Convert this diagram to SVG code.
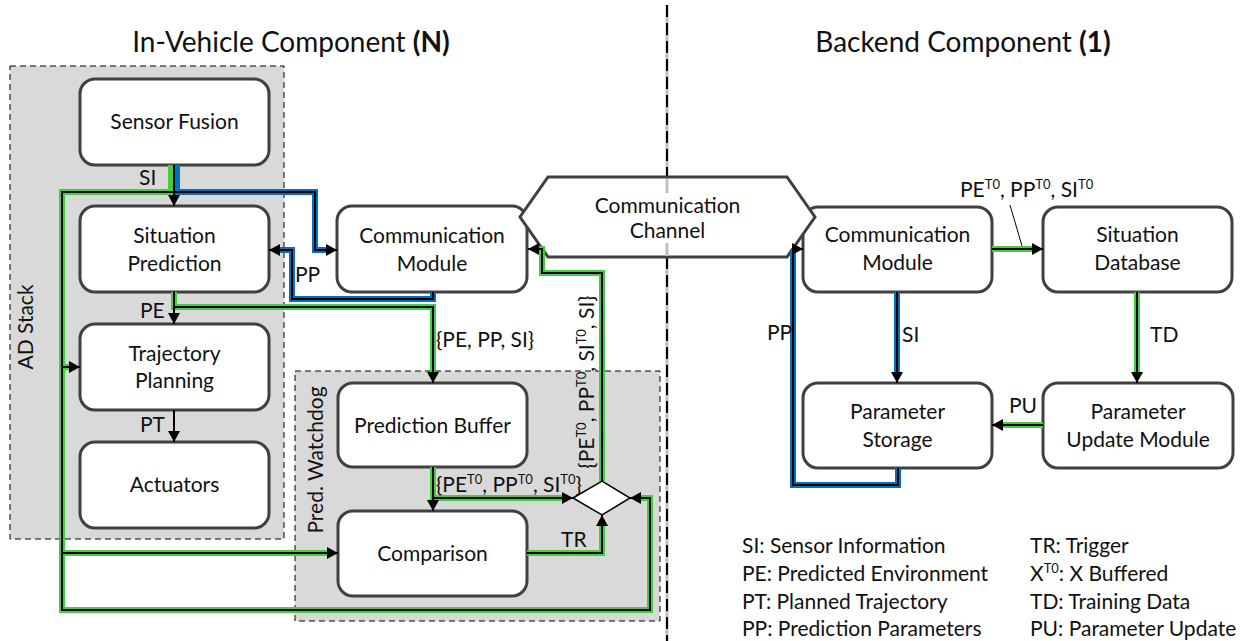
<svg xmlns="http://www.w3.org/2000/svg" width="1258" height="641" viewBox="0 0 1258 641">
<style>
text{font-family:Lato,"Liberation Sans",sans-serif;font-size:21px;fill:#111}
.box{fill:#fff;stroke:#404040;stroke-width:3}
.region{fill:#d9d9d9;stroke:#000;stroke-width:1;stroke-dasharray:6 4}
.g{fill:none;stroke:#3fcf3f;stroke-width:6}
.b{fill:none;stroke:#0070c0;stroke-width:6}
.k{fill:none;stroke:#000;stroke-width:2}
.a{marker-end:url(#arr)}
.c{text-anchor:middle}
.sup{font-size:13px}
.title{font-size:28px}
</style>
<defs>
<marker id="arr" markerUnits="userSpaceOnUse" markerWidth="11" markerHeight="12" refX="11" refY="6" orient="auto">
<path d="M0,0 L11,6 L0,12 z" fill="#000"/>
</marker>
</defs>

<g id="regions">
<rect class="region" x="10" y="66" width="274" height="473"/>
<rect class="region" x="295" y="371" width="365" height="250"/>
<text transform="translate(33,327) rotate(-90)" class="c">AD Stack</text>
<text transform="translate(323,460) rotate(-90)" class="c">Pred. Watchdog</text>
</g>

<g id="divider">
<line x1="667" y1="5" x2="667" y2="641" stroke="#bfbfbf" stroke-width="3"/>
<line x1="667" y1="5" x2="667" y2="641" stroke="#000" stroke-width="2" stroke-dasharray="12 6"/>
</g>

<text class="c title" x="291" y="52">In-Vehicle Component <tspan font-weight="bold">(N)</tspan></text>
<text class="c title" x="963" y="52">Backend Component <tspan font-weight="bold">(1)</tspan></text>

<g id="sensor-fusion"><rect class="box" x="80" y="79" width="189" height="86" rx="15"/><text class="c" x="174.5" y="129">Sensor Fusion</text></g>
<g id="situation-prediction"><rect class="box" x="80" y="206" width="189" height="86" rx="15"/><text class="c" x="174.5" y="243">Situation</text><text class="c" x="174.5" y="271">Prediction</text></g>
<g id="trajectory-planning"><rect class="box" x="80" y="324" width="189" height="86" rx="15"/><text class="c" x="174.5" y="361">Trajectory</text><text class="c" x="174.5" y="388">Planning</text></g>
<g id="actuators"><rect class="box" x="80" y="442" width="189" height="86" rx="15"/><text class="c" x="174.5" y="492">Actuators</text></g>
<g id="comm-module-vehicle"><rect class="box" x="337" y="206" width="190" height="86" rx="15"/><text class="c" x="432" y="243">Communication</text><text class="c" x="432" y="271">Module</text></g>
<g id="prediction-buffer"><rect class="box" x="338" y="383" width="189" height="84" rx="15"/><text class="c" x="432.5" y="433">Prediction Buffer</text></g>
<g id="comparison"><rect class="box" x="338" y="511" width="189" height="85" rx="15"/><text class="c" x="432.5" y="561">Comparison</text></g>
<g id="comm-module-backend"><rect class="box" x="803" y="207" width="189" height="85" rx="15"/><text class="c" x="897.5" y="242">Communication</text><text class="c" x="897.5" y="270">Module</text></g>
<g id="situation-database"><rect class="box" x="1043" y="207" width="189" height="85" rx="15"/><text class="c" x="1137.5" y="242">Situation</text><text class="c" x="1137.5" y="270">Database</text></g>
<g id="parameter-storage"><rect class="box" x="803" y="383" width="189" height="85" rx="15"/><text class="c" x="897.5" y="419">Parameter</text><text class="c" x="897.5" y="447">Storage</text></g>
<g id="parameter-update"><rect class="box" x="1043" y="383" width="190" height="85" rx="15"/><text class="c" x="1138" y="419">Parameter</text><text class="c" x="1138" y="447">Update Module</text></g>

<g id="comm-channel">
<polygon points="548,177 787,177 815,217 787,257 548,257 520,217" fill="#fff" stroke="#404040" stroke-width="3"/>
<line x1="667" y1="179" x2="667" y2="256" stroke="#bfbfbf" stroke-width="3"/>
<rect x="592" y="193" width="152" height="50" fill="#fff"/>
<text class="c" x="667.5" y="213">Communication</text>
<text class="c" x="667.5" y="238">Channel</text>
</g>

<g id="decision">
<polygon points="573,498 602,481 630,498 602,515" fill="#fff" stroke="#000" stroke-width="1.5"/>
</g>

<g id="connectors">
<path class="g" d="M171,165 V192 H62 V610 H650 V498 H641"/>
<path class="g" d="M62,367 H70"/>
<path class="g" d="M62,553 H328"/>
<path class="b" d="M177,165 V192 H315 V250 H327"/>
<path class="b" d="M433,292 V299 H292 V250 H280"/>
<path class="g" d="M174,292 V307 H433 V373"/>
<path class="g" d="M433,467 V498 H563"/>
<path class="g" d="M527,553 H602 V525"/>
<path class="g" d="M602,481 V273 H542 V249 H539"/>
<path class="g" d="M992,249 H1033"/>
<path class="b" d="M897,292 V373"/>
<path class="g" d="M1137,292 V373"/>
<path class="g" d="M1043,425 H1002"/>
<path class="b" d="M898,468 V485 H793 V249"/>

<path class="k a" d="M174,165 V206"/>
<path class="k a" d="M174,192 H62 V610 H650 V498 H630"/>
<path class="k a" d="M62,367 H80"/>
<path class="k a" d="M62,553 H338"/>
<path class="k a" d="M174,192 H315 V250 H337"/>
<path class="k a" d="M433,292 V299 H292 V250 H269"/>
<path class="k a" d="M174,292 V324"/>
<path class="k a" d="M174,307 H433 V383"/>
<path class="k a" d="M174,410 V442"/>
<path class="k a" d="M433,467 V511"/>
<path class="k a" d="M433,498 H573"/>
<path class="k a" d="M527,553 H602 V515"/>
<path class="k a" d="M602,481 V273 H542 V249 H528"/>
<path class="k a" d="M992,249 H1043"/>
<path class="k a" d="M897,292 V383"/>
<path class="k a" d="M1137,292 V383"/>
<path class="k a" d="M1043,425 H992"/>
<path class="k a" d="M898,468 V485 H793 V249 H803"/>
<line x1="1010" y1="205" x2="1022" y2="246" stroke="#000" stroke-width="1"/>
</g>

<g id="labels">
<text x="139" y="185">SI</text>
<text x="295" y="282">PP</text>
<text x="140" y="318">PE</text>
<text x="140" y="432">PT</text>
<text x="436" y="347">{PE, PP, SI}</text>
<text x="436" y="492">{PE<tspan class="sup" dy="-8">T0</tspan><tspan dy="8">, PP</tspan><tspan class="sup" dy="-8">T0</tspan><tspan dy="8">, SI</tspan><tspan class="sup" dy="-8">T0</tspan><tspan dy="8">}</tspan></text>
<text x="561" y="547">TR</text>
<text transform="translate(594,382) rotate(-90)" class="c">{PE<tspan class="sup" dy="-8">T0</tspan><tspan dy="8">, PP</tspan><tspan class="sup" dy="-8">T0</tspan><tspan dy="8">, SI</tspan><tspan class="sup" dy="-8">T0</tspan><tspan dy="8">, SI}</tspan></text>
<text x="960" y="197">PE<tspan class="sup" dy="-8">T0</tspan><tspan dy="8">, PP</tspan><tspan class="sup" dy="-8">T0</tspan><tspan dy="8">, SI</tspan><tspan class="sup" dy="-8">T0</tspan></text>
<text x="902" y="342">SI</text>
<text x="1150" y="342">TD</text>
<text x="1009" y="413">PU</text>
<text x="767" y="340">PP</text>
</g>

<g id="legend">
<text x="742" y="553">SI: Sensor Information</text>
<text x="742" y="581">PE: Predicted Environment</text>
<text x="742" y="609">PT: Planned Trajectory</text>
<text x="742" y="636">PP: Prediction Parameters</text>
<text x="1030" y="553">TR: Trigger</text>
<text x="1030" y="581">X<tspan class="sup" dy="-8">T0</tspan><tspan dy="8">: X Buffered</tspan></text>
<text x="1030" y="609">TD: Training Data</text>
<text x="1030" y="636">PU: Parameter Update</text>
</g>
</svg>
